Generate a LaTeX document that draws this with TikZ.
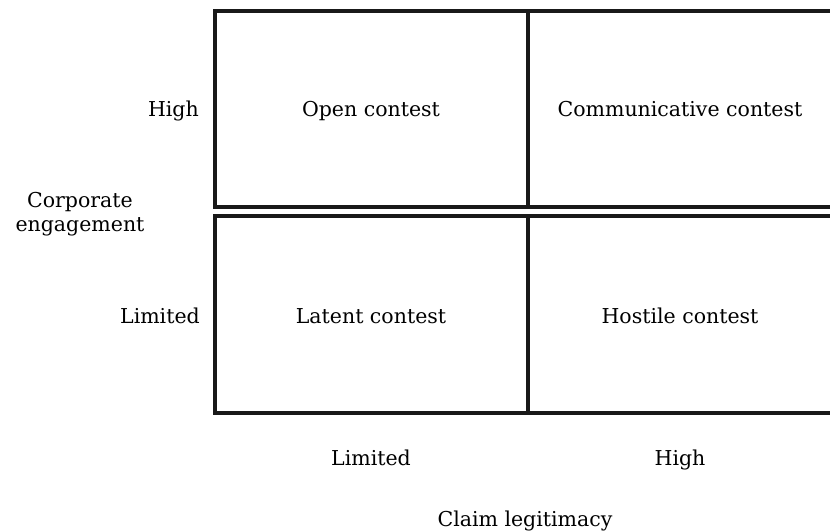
\documentclass[tikz,border=0pt]{standalone}
\usepackage{fontspec}
\setmainfont{DejaVu Serif}
\usetikzlibrary{positioning}

\tikzset{
  cell/.style={draw=black!90, line width=4pt, inner sep=0pt, outer sep=0pt},
  lbl/.style={font=\fontsize{20.5}{24}\selectfont, inner sep=0pt, align=center}
}

\begin{document}
\begin{tikzpicture}[x=1pt, y=-1pt]
\useasboundingbox (0,0) rectangle (830,532);

%Cells
\node[cell, minimum width=313pt, minimum height=196pt] (OL) at (371.5,109)   {};
\node[cell, minimum width=313pt, minimum height=196pt] (OR) [right=0pt of OL] {};
\node[cell, minimum width=313pt, minimum height=197pt] (LL) at (371.5,314.5) {};
\node[cell, minimum width=313pt, minimum height=197pt] (LR) [right=0pt of LL] {};

%Cell texts
\node[lbl, anchor=base] (open)    at (371,117) {Open contest};
\node[lbl, anchor=base] (comm)    at (680,117) {Communicative contest};
\node[lbl, anchor=base] (latent)  at (371,323) {Latent contest};
\node[lbl, anchor=base] (hostile) at (680,323) {Hostile contest};

%Axis labels
\node[lbl, anchor=base east] (yhigh) at (199,117) {High};
\node[lbl, anchor=base east] (ylim)  at (200,323) {Limited};
\node[lbl] (yaxis) at (80,214) {Corporate\\engagement};
\node[lbl, anchor=base] (xlim)  at (371,465) {Limited};
\node[lbl, anchor=base] (xhigh) at (680,465) {High};
\node[lbl, anchor=base] (xaxis) at (525,526) {Claim legitimacy};
\end{tikzpicture}
\end{document}
